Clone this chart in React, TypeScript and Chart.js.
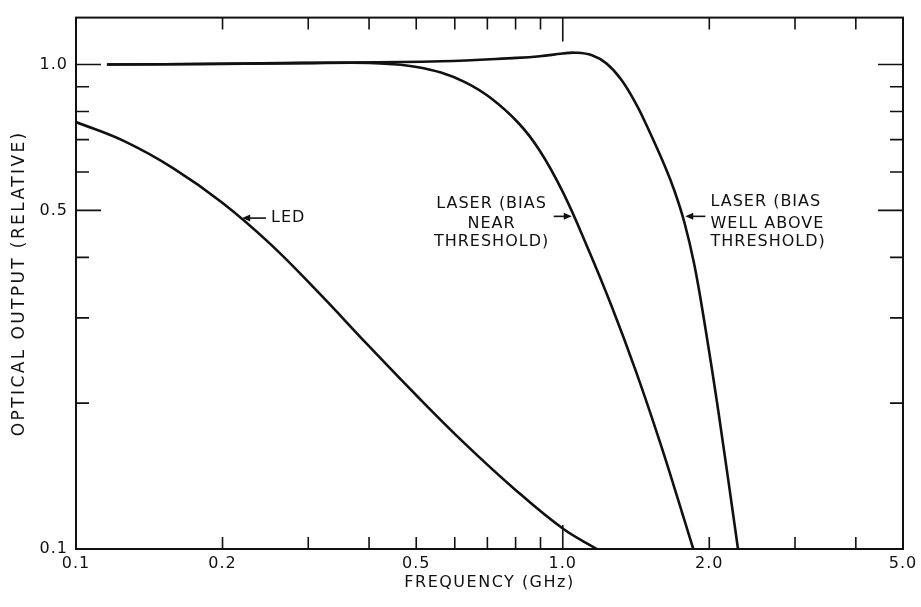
import React, { useEffect, useRef } from "react";
import { Chart, registerables } from "chart.js";

Chart.register(...registerables);

// ---- Data ----
const ledFreq = [0.1, 0.1259, 0.1585, 0.1995, 0.2512, 0.3162, 0.3981, 0.5012, 0.631, 0.7943, 1.0, 1.175];
const ledOut = [0.761, 0.694, 0.6107, 0.5191, 0.4254, 0.3369, 0.2635, 0.2072, 0.1646, 0.1332, 0.1102, 0.1];

const nearFreq = [0.116, 0.2, 0.3, 0.4, 0.447, 0.501, 0.562, 0.631, 0.708, 0.81, 0.897, 1.0, 1.122, 1.259, 1.413, 1.585, 1.778, 1.854];
const nearOut = [1.0, 1.003, 1.007, 1.008, 1.002, 0.9883, 0.9625, 0.919, 0.8558, 0.7583, 0.6639, 0.5459, 0.4213, 0.3178, 0.2329, 0.1658, 0.1147, 0.1];

const aboveFreq = [0.1157, 0.1995, 0.2884, 0.5623, 0.8044, 0.8971, 1.0, 1.059, 1.148, 1.23, 1.318, 1.413, 1.479, 1.622, 1.698, 1.778, 1.862, 1.95, 2.089, 2.291];
const aboveOut = [1.0, 1.0035, 1.008, 1.0155, 1.032, 1.04, 1.054, 1.058, 1.045, 1.0046, 0.9311, 0.8308, 0.7576, 0.6162, 0.547, 0.472, 0.3875, 0.298, 0.1915, 0.1];

const xLabelTicks = [0.1, 0.2, 0.5, 1.0, 2.0, 5.0];
const yLabelTicks = [0.1, 0.5, 1.0];
const xMarkTicks = [0.2, 0.3, 0.4, 0.5, 0.6, 0.7, 0.8, 0.9, 1.0, 2.0, 3.0, 4.0];
const yMarkTicks = [0.2, 0.3, 0.4, 0.5, 0.6, 0.7, 0.8, 0.9, 1.0];
const xLongTicks = [1.0];
const yLongTicks = [0.5, 1.0];

const xTitle = "FREQUENCY (GHz)";
const yTitle = "OPTICAL OUTPUT (RELATIVE)";

// annotations (data coordinates): arrow tip x, arrow tail x, text x, y
const ledNote = { tipX: 0.2195, tailX: 0.2457, textX: 0.2516, y: 0.482, lines: ["LED"] };
const nearNote = { tipX: 1.0435, tailX: 0.958, textX: 0.714, y: 0.486, lines: ["LASER (BIAS", "NEAR", "THRESHOLD)"] };
const aboveNote = { tipX: 1.785, tailX: 1.963, textX: 2.011, y: 0.486, lines: ["LASER (BIAS", "WELL ABOVE", "THRESHOLD)"] };

const FONT = "'DejaVu Sans', sans-serif";
const INK = "#111";

const toPts = (xs: number[], ys: number[]) => xs.map((x, i) => ({ x, y: ys[i] }));

function drawArrow(ctx: CanvasRenderingContext2D, x1: number, y: number, x2: number) {
  const dir = Math.sign(x2 - x1);
  ctx.beginPath();
  ctx.moveTo(x1, y);
  ctx.lineTo(x2 - dir * 6, y);
  ctx.lineWidth = 1.6;
  ctx.stroke();
  ctx.beginPath();
  ctx.moveTo(x2, y);
  ctx.lineTo(x2 - dir * 8, y - 3.5);
  ctx.lineTo(x2 - dir * 8, y + 3.5);
  ctx.closePath();
  ctx.fill();
}

const framePlugin = {
  id: "frameTicks",
  beforeDraw(chart: any) {
    (chart.ctx as any).letterSpacing = "1px";
  },
  afterDraw(chart: any) {
    const { ctx, chartArea } = chart;
    const { left, right, top, bottom } = chartArea;
    const xs = chart.scales.x;
    const ys = chart.scales.y;
    ctx.save();
    ctx.strokeStyle = INK;
    ctx.fillStyle = INK;
    ctx.lineWidth = 2;
    ctx.strokeRect(left, top, right - left, bottom - top);
    ctx.lineWidth = 1.6;
    xMarkTicks.forEach((v) => {
      const px = xs.getPixelForValue(v);
      const len = xLongTicks.includes(v) ? 24 : 12;
      ctx.beginPath();
      ctx.moveTo(px, bottom);
      ctx.lineTo(px, bottom - len);
      ctx.moveTo(px, top);
      ctx.lineTo(px, top + len);
      ctx.stroke();
    });
    yMarkTicks.forEach((v) => {
      const py = ys.getPixelForValue(v);
      const len = yLongTicks.includes(v) ? 25 : 13;
      ctx.beginPath();
      ctx.moveTo(left, py);
      ctx.lineTo(left + len, py);
      ctx.moveTo(right, py);
      ctx.lineTo(right - len, py);
      ctx.stroke();
    });

    // axis titles
    ctx.textBaseline = "middle";
    ctx.textAlign = "center";
    ctx.font = `16px ${FONT}`;
    (ctx as any).letterSpacing = "1.5px";
    ctx.fillText(xTitle, (left + right) / 2, 583);
    ctx.save();
    ctx.translate(20, (top + bottom) / 2);
    ctx.rotate(-Math.PI / 2);
    ctx.font = `17px ${FONT}`;
    (ctx as any).letterSpacing = "2.4px";
    ctx.fillText(yTitle, 0, 0);
    ctx.restore();

    // annotations
    ctx.font = `16px ${FONT}`;
    (ctx as any).letterSpacing = "1px";
    ctx.textBaseline = "middle";
    {
      const ty = ys.getPixelForValue(ledNote.y);
      drawArrow(ctx, xs.getPixelForValue(ledNote.tailX), ty, xs.getPixelForValue(ledNote.tipX));
      ctx.textAlign = "left";
      ctx.fillText(ledNote.lines[0], xs.getPixelForValue(ledNote.textX), ty);
    }
    {
      const ty = ys.getPixelForValue(nearNote.y);
      drawArrow(ctx, xs.getPixelForValue(nearNote.tailX), ty, xs.getPixelForValue(nearNote.tipX));
      ctx.textAlign = "center";
      const cx = xs.getPixelForValue(nearNote.textX);
      ctx.fillText(nearNote.lines[0], cx, ty - 13);
      ctx.fillText(nearNote.lines[1], cx, ty + 7);
      ctx.fillText(nearNote.lines[2], cx, ty + 25);
    }
    {
      const ty = ys.getPixelForValue(aboveNote.y);
      drawArrow(ctx, xs.getPixelForValue(aboveNote.tailX), ty, xs.getPixelForValue(aboveNote.tipX));
      ctx.textAlign = "left";
      const lx = xs.getPixelForValue(aboveNote.textX);
      ctx.fillText(aboveNote.lines[0], lx, ty - 15);
      ctx.fillText(aboveNote.lines[1], lx, ty + 7);
      ctx.fillText(aboveNote.lines[2], lx, ty + 25);
    }
    ctx.restore();
    (ctx as any).letterSpacing = "0px";
  },
};

export default function App() {
  const ref = useRef<HTMLCanvasElement | null>(null);
  useEffect(() => {
    if (!ref.current) return;
    const lineStyle = {
      borderColor: INK,
      borderWidth: 2.6,
      pointRadius: 0,
      showLine: true,
      fill: false,
      tension: 0.4,
    };
    const chart = new Chart(ref.current, {
      type: "scatter",
      data: {
        datasets: [
          { label: "LED", data: toPts(ledFreq, ledOut), ...lineStyle },
          { label: "Laser (bias near threshold)", data: toPts(nearFreq, nearOut), ...lineStyle },
          { label: "Laser (bias well above threshold)", data: toPts(aboveFreq, aboveOut), ...lineStyle },
        ],
      },
      options: {
        animation: false,
        responsive: false,
        events: [],
        layout: { padding: { top: 13, right: 18, left: 0, bottom: 0 } },
        plugins: { legend: { display: false }, tooltip: { enabled: false } },
        scales: {
          x: {
            type: "logarithmic",
            min: 0.1,
            max: 5,
            grid: { display: false, drawTicks: false },
            border: { display: false },
            afterBuildTicks: (s: any) => {
              s.ticks = xLabelTicks.map((v) => ({ value: v }));
            },
            afterFit: (s: any) => {
              s.height = 58;
            },
            ticks: {
              autoSkip: false,
              maxRotation: 0,
              padding: 5,
              color: INK,
              font: { family: FONT, size: 16 },
              callback: (v: any) => Number(v).toFixed(1),
            },
          },
          y: {
            type: "logarithmic",
            min: 0.1,
            max: 1.25,
            grid: { display: false, drawTicks: false },
            border: { display: false },
            afterBuildTicks: (s: any) => {
              s.ticks = yLabelTicks.map((v) => ({ value: v }));
            },
            afterFit: (s: any) => {
              s.width = 76;
            },
            ticks: {
              autoSkip: false,
              padding: 8,
              color: INK,
              font: { family: FONT, size: 16 },
              callback: (v: any) => Number(v).toFixed(1),
            },
          },
        },
      } as any,
      plugins: [framePlugin],
    });
    return () => chart.destroy();
  }, []);
  return (
    <div style={{ position: "absolute", left: 0, top: 0, width: 921, height: 607, background: "#fff" }}>
      <canvas ref={ref} width={921} height={607} style={{ display: "block" }} />
    </div>
  );
}
